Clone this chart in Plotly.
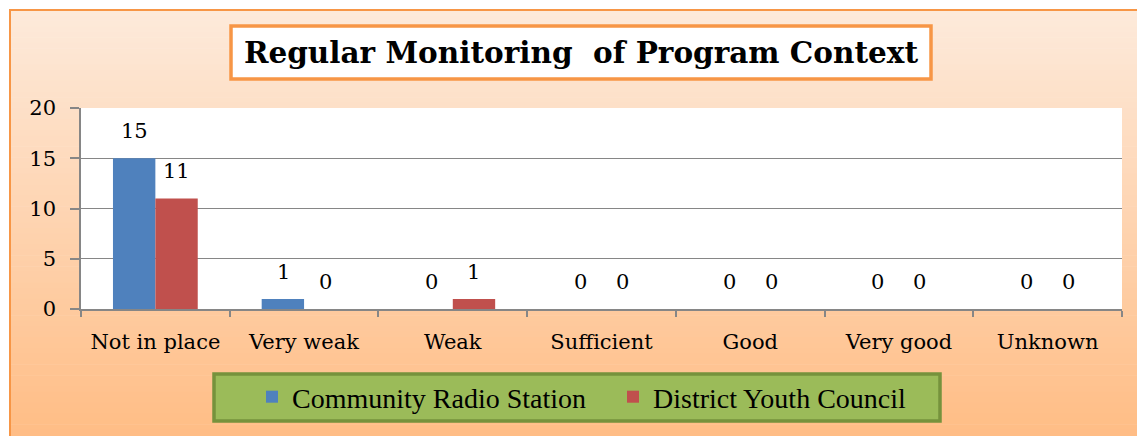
import plotly.graph_objects as go

categories = ["Not in place", "Very weak", "Weak", "Sufficient", "Good", "Very good", "Unknown"]
radio_values = [15, 1, 0, 0, 0, 0, 0]
council_values = [11, 0, 1, 0, 0, 0, 0]
series_names = ["Community Radio Station", "District Youth Council"]
series_colors = ["#4F81BD", "#C0504D"]
title_text = "Regular Monitoring  of Program Context"
y_ticks = [0, 5, 10, 15, 20]

# the page adds an 8px body margin; work in reference-pixel coordinates and subtract it
OFF = 8
W, H = 1145 - OFF, 436 - OFF
L, R, T, B = 81 - OFF, 1122 - OFF, 108 - OFF, 309 - OFF


def px_x(x):
    return (x - OFF - L) / (R - L)


def px_y(y):
    return (B - (y - OFF)) / (B - T)


def lerp_color(c1, c2, t):
    a = [int(c1[i:i + 2], 16) for i in (1, 3, 5)]
    b = [int(c2[i:i + 2], 16) for i in (1, 3, 5)]
    return "#%02x%02x%02x" % tuple(round(a[k] + (b[k] - a[k]) * t) for k in range(3))


fig = go.Figure()
for name, vals, col in zip(series_names, [radio_values, council_values], series_colors):
    fig.add_trace(go.Bar(x=categories, y=vals, name=name, marker_color=col,
                         marker_line_width=0))

shapes = []
# gradient background inside the orange frame
top_c, bot_c = "#FDEADB", "#FFBC83"
y0, y1 = 10, 446
n = 80
for i in range(n):
    ya = y0 + (y1 - y0) * i / n
    yb = y0 + (y1 - y0) * (i + 1) / n + 0.6
    shapes.append(dict(type="rect", xref="paper", yref="paper", layer="below",
                       x0=px_x(10), x1=px_x(1160), y0=px_y(ya), y1=px_y(yb),
                       fillcolor=lerp_color(top_c, bot_c, (i + 0.5) / n), line_width=0))
# frame outline
shapes.append(dict(type="rect", xref="paper", yref="paper", layer="below",
                   x0=px_x(10), x1=px_x(1160), y0=px_y(10), y1=px_y(450),
                   fillcolor="rgba(0,0,0,0)", line=dict(color="#F79646", width=2)))
# white plot area
shapes.append(dict(type="rect", xref="paper", yref="paper", layer="below",
                   x0=0, x1=1, y0=0, y1=1, fillcolor="white", line_width=0))
# title box
shapes.append(dict(type="rect", xref="paper", yref="paper", layer="below",
                   x0=px_x(231), x1=px_x(931), y0=px_y(26), y1=px_y(79),
                   fillcolor="white", line=dict(color="#F79646", width=3.5)))
# legend box
shapes.append(dict(type="rect", xref="paper", yref="paper", layer="below",
                   x0=px_x(214), x1=px_x(940), y0=px_y(374), y1=px_y(421),
                   fillcolor="#9BBB59", line=dict(color="#76923C", width=3.5)))

annotations = []
for vals, shift in [(radio_values, -21), (council_values, 21)]:
    for c, v in zip(categories, vals):
        annotations.append(dict(x=c, y=v, xref="x", yref="y", text=str(v),
                                showarrow=False, xshift=shift, yshift=27,
                                yanchor="middle", xanchor="center",
                                font=dict(family="DejaVu Serif", size=21, color="black")))

fig.update_layout(
    width=W, height=H,
    margin=dict(l=L, r=W - R, t=T, b=H - B, pad=0),
    paper_bgcolor="white",
    plot_bgcolor="white",
    barmode="group",
    bargap=0.43,
    bargroupgap=0,
    shapes=shapes,
    annotations=annotations,
    title=dict(text="<b>" + title_text + "</b>", x=(581 - OFF) / W, xanchor="center",
               y=1 - (53 - OFF) / H, yanchor="middle", yref="container",
               font=dict(family="DejaVu Serif", size=29.5, color="black")),
    showlegend=True,
    legend=dict(orientation="h", x=px_x(613), xanchor="center", y=px_y(397), yanchor="middle",
                bgcolor="rgba(0,0,0,0)", borderwidth=0,
                font=dict(family="Liberation Serif", size=28, color="black"),
                itemwidth=30, traceorder="normal",
                entrywidth=316, entrywidthmode="pixels"),
    font=dict(family="DejaVu Serif", size=21, color="black"),
)
fig.update_xaxes(showline=True, linecolor="#868686", linewidth=1.5,
                 ticks="outside", tickson="boundaries", ticklen=6, tickcolor="#868686",
                 tickwidth=1.5, showgrid=False,
                 tickfont=dict(family="DejaVu Serif", size=21, color="black"),
                 ticklabelstandoff=13)
fig.update_yaxes(range=[0, 20], tickvals=y_ticks, showline=True, linecolor="#868686",
                 linewidth=1.5, ticks="outside", ticklen=9, tickcolor="#868686", tickwidth=1.5,
                 showgrid=True, gridcolor="#868686", gridwidth=1, zeroline=False,
                 tickfont=dict(family="DejaVu Serif", size=21, color="black"),
                 ticklabelstandoff=10)

fig.write_html("out.html")
